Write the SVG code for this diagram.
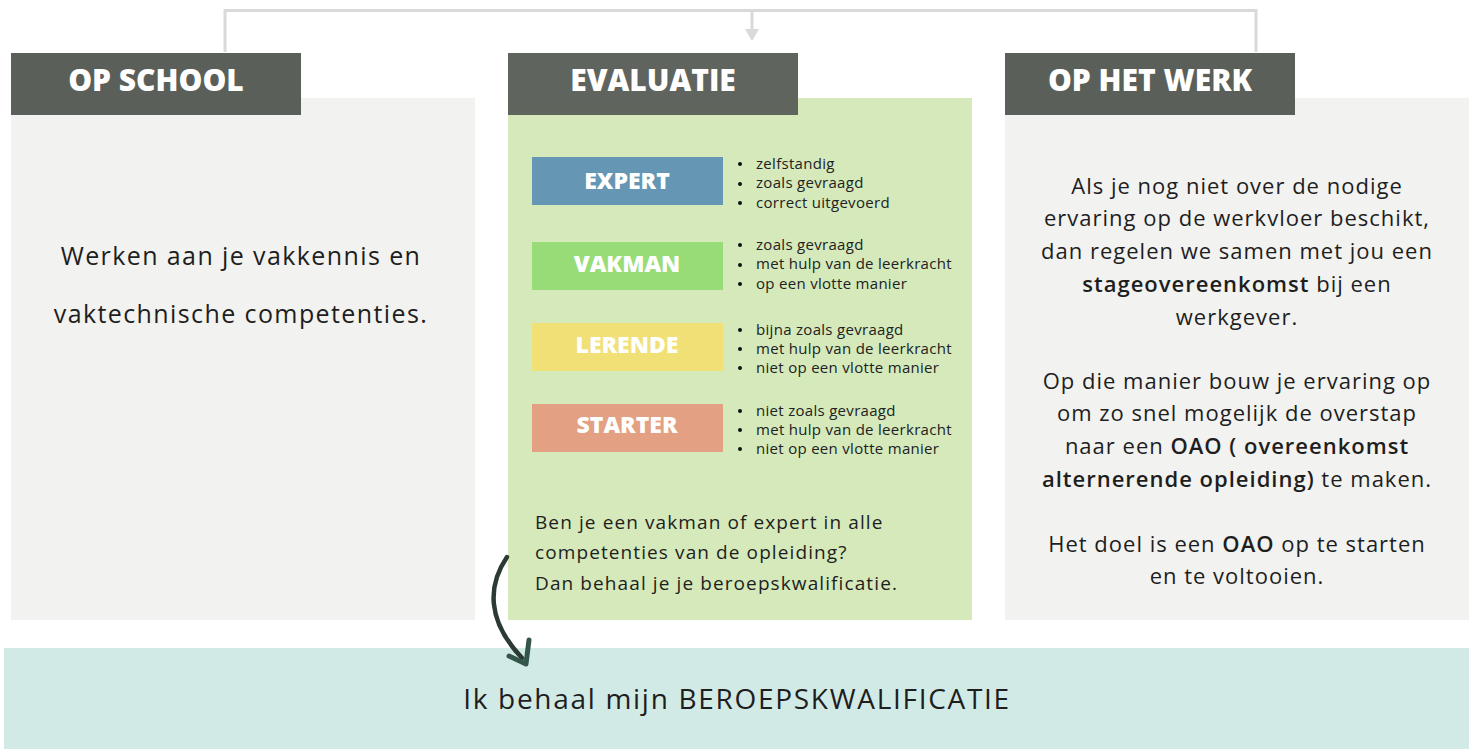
<svg xmlns="http://www.w3.org/2000/svg" width="1476" height="749" viewBox="0 0 1476 749">
<defs>
<style>
.hdr{fill:#5b5f5a}
.hdrt{font-family:"Open Sans",sans-serif;font-weight:800;font-size:30px;fill:#ffffff;text-anchor:middle}
.panel{fill:#f2f2f0}
.lvl{font-family:"Open Sans",sans-serif;font-weight:800;font-size:23px;fill:#ffffff;text-anchor:middle}
.bul{font-family:"Open Sans",sans-serif;font-size:15px;letter-spacing:0.3px;fill:#222222}
.body{font-family:"Open Sans",sans-serif;fill:#1e1e1e}
.b{font-weight:600}
.conn{fill:none;stroke:#d9d9d7;stroke-width:3}
</style>
</defs>
<rect width="1476" height="749" fill="#ffffff"/>

<g id="op-school">
<rect class="panel" x="11" y="98" width="464" height="522"/>
<rect class="hdr" x="11" y="53" width="290" height="62"/>
<text class="hdrt" x="156" y="91">OP SCHOOL</text>
<text class="body" font-size="25" letter-spacing="1.4" text-anchor="middle" x="241" y="265">Werken aan je vakkennis en</text>
<text class="body" font-size="25" letter-spacing="1.4" text-anchor="middle" x="241" y="323">vaktechnische competenties.</text>
</g>

<g id="evaluatie">
<rect x="508" y="98" width="464" height="522" fill="#d5e9bb"/>
<rect class="hdr" x="508" y="53" width="290" height="62" opacity="0.97"/>
<text class="hdrt" x="653" y="91">EVALUATIE</text>

<g id="expert">
<rect x="532" y="157" width="191" height="48" fill="#6596b4"/>
<text class="lvl" x="627" y="189">EXPERT</text>
<circle cx="740" cy="164" r="2" fill="#111"/><text class="bul" x="756" y="169">zelfstandig</text>
<circle cx="740" cy="184" r="2" fill="#111"/><text class="bul" x="756" y="188">zoals gevraagd</text>
<circle cx="740" cy="203" r="2" fill="#111"/><text class="bul" x="756" y="208">correct uitgevoerd</text>
</g>
<g id="vakman">
<rect x="532" y="242" width="191" height="48" fill="#98dc78"/>
<text class="lvl" x="627" y="272">VAKMAN</text>
<circle cx="740" cy="245" r="2" fill="#111"/><text class="bul" x="756" y="250">zoals gevraagd</text>
<circle cx="740" cy="265" r="2" fill="#111"/><text class="bul" x="756" y="269">met hulp van de leerkracht</text>
<circle cx="740" cy="284" r="2" fill="#111"/><text class="bul" x="756" y="289">op een vlotte manier</text>
</g>
<g id="lerende">
<rect x="532" y="323" width="191" height="48" fill="#f1e076"/>
<text class="lvl" x="627" y="353">LERENDE</text>
<circle cx="740" cy="330" r="2" fill="#111"/><text class="bul" x="756" y="335">bijna zoals gevraagd</text>
<circle cx="740" cy="349" r="2" fill="#111"/><text class="bul" x="756" y="354">met hulp van de leerkracht</text>
<circle cx="740" cy="368" r="2" fill="#111"/><text class="bul" x="756" y="373">niet op een vlotte manier</text>
</g>
<g id="starter">
<rect x="532" y="404" width="191" height="48" fill="#e3a083"/>
<text class="lvl" x="627" y="433">STARTER</text>
<circle cx="740" cy="411" r="2" fill="#111"/><text class="bul" x="756" y="416">niet zoals gevraagd</text>
<circle cx="740" cy="430" r="2" fill="#111"/><text class="bul" x="756" y="435">met hulp van de leerkracht</text>
<circle cx="740" cy="449" r="2" fill="#111"/><text class="bul" x="756" y="454">niet op een vlotte manier</text>
</g>
<g class="body" font-size="19" letter-spacing="1.1">
<text x="535" y="529">Ben je een vakman of expert in alle</text>
<text x="535" y="559">competenties van de opleiding?</text>
<text x="535" y="590">Dan behaal je je beroepskwalificatie.</text>
</g>
</g>

<g id="op-het-werk">
<rect class="panel" x="1005" y="98" width="464" height="522"/>
<rect class="hdr" x="1005" y="53" width="290" height="62"/>
<text class="hdrt" x="1150" y="91">OP HET WERK</text>
<g class="body" font-size="22" letter-spacing="1" text-anchor="middle">
<text x="1237" y="194">Als je nog niet over de nodige</text>
<text x="1237" y="226">ervaring op de werkvloer beschikt,</text>
<text x="1237" y="259">dan regelen we samen met jou een</text>
<text x="1237" y="292"><tspan class="b">stageovereenkomst</tspan> bij een</text>
<text x="1237" y="325">werkgever.</text>
<text x="1237" y="389">Op die manier bouw je ervaring op</text>
<text x="1237" y="421">om zo snel mogelijk de overstap</text>
<text x="1237" y="454">naar een <tspan class="b">OAO ( overeenkomst</tspan></text>
<text x="1237" y="487"><tspan class="b">alternerende opleiding)</tspan> te maken.</text>
<text x="1237" y="552">Het doel is een <tspan class="b">OAO</tspan> op te starten</text>
<text x="1237" y="584">en te voltooien.</text>
</g>
</g>

<g id="beroepskwalificatie">
<rect x="4" y="648" width="1465" height="101" fill="#d2eae6"/>
<text class="body" font-size="28" letter-spacing="1.7" text-anchor="middle" x="737" y="709">Ik behaal mijn BEROEPSKWALIFICATIE</text>
</g>

<g id="connectors">
<path class="conn" d="M225,52 V10.5 H1256 V52"/>
<path class="conn" d="M752,10.5 V32"/>
<path d="M745,29 L759,29 L752,41 Z" fill="#d9d9d7"/>
<path d="M507,557 C488,585 486,620 522,658" fill="none" stroke="#2b3a33" stroke-width="4.5" stroke-linecap="round"/>
<path d="M509,656 L526,664 L529,640" fill="none" stroke="#33554a" stroke-width="5" stroke-linecap="round" stroke-linejoin="round"/>
</g>
</svg>
